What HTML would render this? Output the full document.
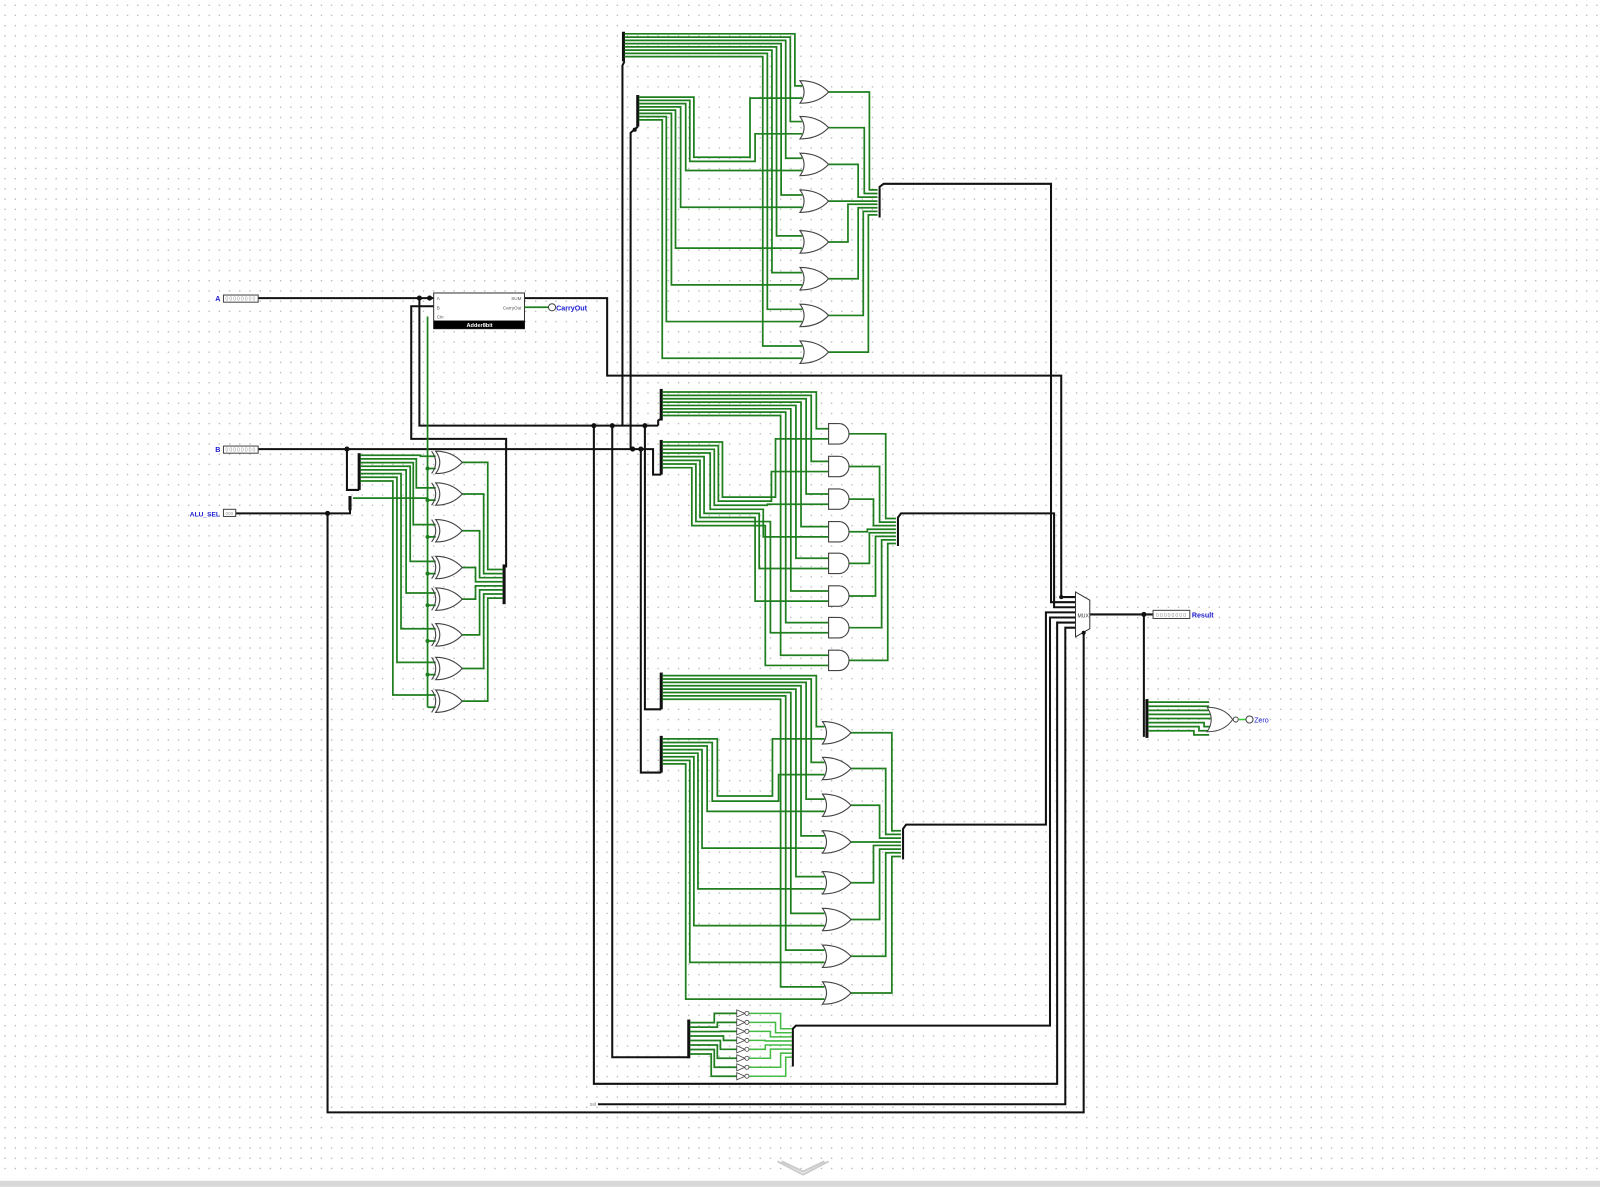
<!DOCTYPE html>
<html><head><meta charset="utf-8"><style>
html,body{margin:0;padding:0;background:#fff;}
svg{display:block;}
text{font-family:"Liberation Sans",sans-serif;}
</style></head><body>
<svg width="1600" height="1187" viewBox="0 0 1568 1163" xmlns="http://www.w3.org/2000/svg">
<defs>
<pattern id="grid" width="10" height="10" patternUnits="userSpaceOnUse">
<rect x="4.4" y="4.4" width="1.2" height="1.2" fill="#a8a8a8"/>
</pattern>
<g id="or"><path d="M0,-11 Q8,0 0,11 Q18,11 28,0 Q18,-11 0,-11Z" fill="#fff" stroke="#444" stroke-width="1.1"/></g>
<g id="xor"><path d="M2,-11 Q10,0 2,11 Q18,11 28,0 Q18,-11 2,-11Z" fill="#fff" stroke="#444" stroke-width="1.1"/><path d="M-2,-11 Q6,0 -2,11" fill="none" stroke="#444" stroke-width="1.1"/></g>
<g id="and"><path d="M0,-10 H10 A10,10 0 0 1 10,10 H0Z" fill="#fff" stroke="#444" stroke-width="1.1"/></g>
<g id="not"><path d="M0,-3.5 L8,0 L0,3.5Z" fill="#fff" stroke="#444" stroke-width="0.8"/><circle cx="10" cy="0" r="2" fill="#fff" stroke="#444" stroke-width="0.8"/></g>
</defs>
<rect width="1568" height="1163" fill="#fff"/>
<rect width="1568" height="1150" fill="url(#grid)"/>
<rect x="0" y="1157" width="1568" height="6" fill="#d8d8d8"/>
<path d="M762,1138 L787,1151 L812,1138 M766,1138 L787,1148 L808,1138" fill="none" stroke="#ccc" stroke-width="2"/>

<!-- BLACK WIRES -->
<g fill="none" stroke="#111" stroke-width="2">
<path d="M253,292 H425"/>
<path d="M514,292 H595 V368 H1040 V585 H1054"/>
<path d="M411,292 V417 H645"/>
<path d="M425,300 H403 V430 H496 V556"/>
<path d="M253,440 H640 V465 H648"/>
<path d="M340,440 V480 H352"/>
<path d="M231,503 H343 V490"/>
<path d="M321,503 V1090 H1062 V620"/>
<path d="M586,1082 H1044 V615 H1054"/>
<path d="M610,417 V64 L612,60"/>
<path d="M618,440 V130 L625,124"/>
<path d="M645,417 V412 L648,410"/>
<path d="M632,417 V695 H648"/>
<path d="M628,440 V757 H648"/>
<path d="M582,417 V1062 H1036 V610 H1054"/>
<path d="M600,417 V1036 H675"/>
<path d="M862,213 V183 L866,180 H1030 V590 H1054"/>
<path d="M880,535 V507 L883,503 H1033 V595 H1054"/>
<path d="M885,842 V812 L888,808 H1025 V600 H1054"/>
<path d="M777,1045 V1008 L780,1005 H1029 V605 H1054"/>
<path d="M1068,602 H1130"/>
<path d="M1121,602 V722"/>
</g>
<!-- splitter bars -->
<g stroke="#111" stroke-width="3">
<line x1="611" y1="31" x2="611" y2="60"/>
<line x1="625" y1="93" x2="625" y2="124"/>
<line x1="648" y1="381" x2="648" y2="412"/>
<line x1="648" y1="431" x2="648" y2="465"/>
<line x1="648" y1="659" x2="648" y2="695"/>
<line x1="648" y1="721" x2="648" y2="757"/>
<line x1="352" y1="444" x2="352" y2="480"/>
<line x1="343" y1="486" x2="343" y2="500"/>
<line x1="494" y1="553" x2="494" y2="592"/>
<line x1="675" y1="999" x2="675" y2="1037"/>
<line x1="1124" y1="685" x2="1124" y2="723"/>
</g>

<!-- TOP OR BLOCK -->
<g fill="none" stroke="#1f7f1f" stroke-width="1.7">
<path d="M612,33 H779 V84 H786"/>
<path d="M612,36.2 H774.5 V119 H786"/>
<path d="M612,39.4 H770 V155 H786"/>
<path d="M612,42.6 H765.5 V191 H786"/>
<path d="M612,45.8 H761 V231 H786"/>
<path d="M612,49 H756.5 V267 H786"/>
<path d="M612,52.2 H752 V303 H786"/>
<path d="M612,55.4 H747.5 V339 H786"/>
<path d="M626,95 H680 V154 H735 V96 H786"/>
<path d="M626,98.2 H676 V158 H740 V131 H786"/>
<path d="M626,101.4 H672 V167 H786"/>
<path d="M626,104.6 H667 V203 H786"/>
<path d="M626,107.8 H662 V243 H786"/>
<path d="M626,111 H658 V279 H786"/>
<path d="M626,114.2 H653 V315 H786"/>
<path d="M626,117.4 H649 V351 H786"/>
<path d="M812,90 H852 V186 H860"/>
<path d="M812,125 H847 V189.5 H860"/>
<path d="M812,161 H841 V193 H860"/>
<path d="M812,197 H860"/>
<path d="M812,237 H831 V200 H860"/>
<path d="M812,273 H841 V203.5 H860"/>
<path d="M812,309 H846 V207 H860"/>
<path d="M812,345 H851 V210.5 H860"/>
</g>
<use href="#or" x="784" y="90"/><use href="#or" x="784" y="125"/><use href="#or" x="784" y="161"/><use href="#or" x="784" y="197"/>
<use href="#or" x="784" y="237"/><use href="#or" x="784" y="273"/><use href="#or" x="784" y="309"/><use href="#or" x="784" y="345"/>

<!-- MIDDLE AND BLOCK -->
<g fill="none" stroke="#1f7f1f" stroke-width="1.7">
<path d="M649,384 H800 V420 H812"/>
<path d="M649,387.3 H795 V452 H812"/>
<path d="M649,390.6 H790 V484 H812"/>
<path d="M649,393.9 H785 V516 H812"/>
<path d="M649,397.2 H780 V547 H812"/>
<path d="M649,400.5 H775 V579 H812"/>
<path d="M649,403.8 H770 V610 H812"/>
<path d="M649,407.1 H765 V642 H812"/>
<path d="M649,433 H708 V487 H760 V430 H812"/>
<path d="M649,436.6 H704 V491 H756 V462 H812"/>
<path d="M649,440.2 H700 V495 H752 V494 H812"/>
<path d="M649,443.8 H696 V499 H748 V526 H812"/>
<path d="M649,447.4 H690 V503 H744 V557 H812"/>
<path d="M649,451 H686 V507 H740 V589 H812"/>
<path d="M649,454.6 H682 V511 H755 V620 H812"/>
<path d="M649,458.2 H678 V515 H750 V652 H812"/>
<path d="M832,425 H868 V508 H878"/>
<path d="M832,457 H862 V511.5 H878"/>
<path d="M832,489 H856 V515 H878"/>
<path d="M832,521 H850 V518.5 H878"/>
<path d="M832,552 H852 V522 H878"/>
<path d="M832,584 H858 V525.5 H878"/>
<path d="M832,615 H864 V529 H878"/>
<path d="M832,647 H870 V532.5 H878"/>
</g>
<use href="#and" x="812" y="425"/><use href="#and" x="812" y="457"/><use href="#and" x="812" y="489"/><use href="#and" x="812" y="521"/>
<use href="#and" x="812" y="552"/><use href="#and" x="812" y="584"/><use href="#and" x="812" y="615"/><use href="#and" x="812" y="647"/>

<!-- LOWER OR BLOCK -->
<g fill="none" stroke="#1f7f1f" stroke-width="1.7">
<path d="M649,662 H800 V712 H808"/>
<path d="M649,665.3 H795 V747 H808"/>
<path d="M649,668.6 H790 V783 H808"/>
<path d="M649,671.9 H785 V819 H808"/>
<path d="M649,675.2 H780 V859 H808"/>
<path d="M649,678.5 H775 V895 H808"/>
<path d="M649,681.8 H770 V931 H808"/>
<path d="M649,685.1 H765 V967 H808"/>
<path d="M649,724 H703 V780 H757 V724 H808"/>
<path d="M649,727.5 H698 V785 H763 V759 H808"/>
<path d="M649,731 H693 V795 H808"/>
<path d="M649,734.5 H688 V831 H808"/>
<path d="M649,738 H684 V871 H808"/>
<path d="M649,741.5 H680 V907 H808"/>
<path d="M649,745 H676 V943 H808"/>
<path d="M649,748.5 H672 V979 H808"/>
<path d="M830,718 H874 V814 H883"/>
<path d="M830,753 H868 V817.6 H883"/>
<path d="M830,789 H862 V821.2 H883"/>
<path d="M830,825 H883"/>
<path d="M830,865 H856 V828.4 H883"/>
<path d="M830,901 H862 V832 H883"/>
<path d="M830,937 H868 V835.6 H883"/>
<path d="M830,973 H874 V839.2 H883"/>
</g>
<use href="#or" x="806" y="718"/><use href="#or" x="806" y="753"/><use href="#or" x="806" y="789"/><use href="#or" x="806" y="825"/>
<use href="#or" x="806" y="865"/><use href="#or" x="806" y="901"/><use href="#or" x="806" y="937"/><use href="#or" x="806" y="973"/>

<!-- NOT BLOCK -->
<g fill="none" stroke="#1f7f1f" stroke-width="1.7">
<path d="M676,1002 H700 V993 H722"/>
<path d="M676,1006.4 H703 V1001.8 H722"/>
<path d="M676,1010.8 H706 V1010.6 H722"/>
<path d="M676,1015.2 H709 V1019.4 H722"/>
<path d="M676,1019.6 H706 V1028.2 H722"/>
<path d="M676,1024 H703 V1037 H722"/>
<path d="M676,1028.4 H700 V1045.8 H722"/>
<path d="M676,1032.8 H697 V1054.6 H722"/>
</g>
<g fill="none" stroke="#44bb44" stroke-width="1.5">
<path d="M734,993 H765 V1008 H776"/>
<path d="M734,1001.8 H760 V1012 H776"/>
<path d="M734,1010.6 H755 V1016 H776"/>
<path d="M734,1019.4 H750 V1020 H776"/>
<path d="M734,1028.2 H750 V1024 H776"/>
<path d="M734,1037 H755 V1028 H776"/>
<path d="M734,1045.8 H765 V1032 H776"/>
<path d="M734,1054.6 H770 V1036 H776"/>
</g>
<use href="#not" x="722" y="993"/><use href="#not" x="722" y="1001.8"/><use href="#not" x="722" y="1010.6"/><use href="#not" x="722" y="1019.4"/>
<use href="#not" x="722" y="1028.2"/><use href="#not" x="722" y="1037"/><use href="#not" x="722" y="1045.8"/><use href="#not" x="722" y="1054.6"/>

<!-- XOR BLOCK -->
<g fill="none" stroke="#1f7f1f" stroke-width="1.7">
<path d="M419,310 V693"/>
<path d="M346,488 H419"/>
<path d="M353,446 H412 V447 H427"/>
<path d="M353,449.6 H408 V478 H427"/>
<path d="M353,453.2 H405 V514 H427"/>
<path d="M353,456.8 H402 V550 H427"/>
<path d="M353,460.4 H398 V581 H427"/>
<path d="M353,464 H393 V616 H427"/>
<path d="M353,467.6 H389 V649 H427"/>
<path d="M353,471.2 H385 V681 H427"/>
<path d="M419,459 H427 M419,490 H427 M419,526 H427 M419,562 H427 M419,593 H427 M419,628 H427 M419,661 H427 M419,693 H427"/>
<path d="M452,453 H478 V558 H493"/>
<path d="M452,484 H474 V562 H493"/>
<path d="M452,520 H470 V566 H493"/>
<path d="M452,556 H466 V570 H493"/>
<path d="M452,587 H466 V574 H493"/>
<path d="M452,622 H470 V578 H493"/>
<path d="M452,655 H474 V582 H493"/>
<path d="M452,687 H478 V586 H493"/>
</g>
<use href="#xor" x="425" y="453"/><use href="#xor" x="425" y="484"/><use href="#xor" x="425" y="520"/><use href="#xor" x="425" y="556"/>
<use href="#xor" x="425" y="587"/><use href="#xor" x="425" y="622"/><use href="#xor" x="425" y="655"/><use href="#xor" x="425" y="687"/>
<g fill="#1f7f1f">
<circle cx="419" cy="490" r="2"/><circle cx="419" cy="459" r="2"/><circle cx="419" cy="526" r="2"/><circle cx="419" cy="562" r="2"/>
<circle cx="419" cy="593" r="2"/><circle cx="419" cy="628" r="2"/><circle cx="419" cy="661" r="2"/>
</g>

<!-- ZERO NOR -->
<g fill="none" stroke="#1f7f1f" stroke-width="1.7">
<path d="M1125,688 H1185"/><path d="M1125,692 H1185"/><path d="M1125,696 H1186"/><path d="M1125,700 H1187"/>
<path d="M1125,704 H1187"/><path d="M1125,708 H1180 V712 H1186"/><path d="M1125,712 H1175 V716 H1185"/><path d="M1125,716 H1170 V720 H1185"/>
</g>
<path d="M1183,693 Q1191,705 1183,717 Q1200,717 1208,705 Q1200,693 1183,693Z" fill="#fff" stroke="#444"/>
<circle cx="1211" cy="705" r="2.5" fill="#fff" stroke="#444"/>
<line x1="1214" y1="705" x2="1221" y2="705" stroke="#3c3" stroke-width="1.5"/>
<circle cx="1224.5" cy="705" r="3.5" fill="#fff" stroke="#444"/>
<text x="1229" y="708" font-size="7" fill="#1a1ad0">Zero</text>

<!-- MUX -->
<path d="M1054,580 L1068,588 L1068,616 L1054,624Z" fill="#fff" stroke="#333"/>
<text x="1056" y="605" font-size="5" fill="#333">MUX</text>

<!-- RESULT -->
<rect x="1130" y="598" width="36" height="8" fill="#fff" stroke="#444"/>
<text x="1133" y="604.5" font-size="5" fill="#999" letter-spacing="1">00000000</text>
<text x="1168" y="605" font-size="7" font-weight="bold" fill="#1a1ad0">Result</text>

<!-- ADDER -->
<rect x="425" y="287" width="89" height="35" fill="#fff" stroke="#333"/>
<rect x="425" y="314" width="89" height="8" fill="#000"/>
<text x="470" y="320.5" font-size="5.5" font-weight="bold" fill="#fff" text-anchor="middle">Adder8bit</text>
<text x="428" y="294" font-size="4.5" fill="#555">A</text>
<text x="428" y="303" font-size="4.5" fill="#555">B</text>
<text x="428" y="312" font-size="4.5" fill="#555">Cin</text>
<text x="511" y="294" font-size="4.5" fill="#555" text-anchor="end">SUM</text>
<text x="511" y="303" font-size="4.5" fill="#555" text-anchor="end">CarryOut</text>
<line x1="514" y1="301" x2="538" y2="301" stroke="#1f7f1f" stroke-width="1.7"/>
<circle cx="541" cy="301" r="3.5" fill="#fff" stroke="#444"/>
<text x="545" y="304" font-size="7" font-weight="bold" fill="#1a1ad0">CarryOut</text>

<!-- INPUTS -->
<text x="211" y="295" font-size="7" font-weight="bold" fill="#1a1ad0">A</text>
<rect x="219" y="289" width="34" height="7" fill="#fff" stroke="#444"/>
<text x="221" y="294.5" font-size="5" fill="#999" letter-spacing="1">00000000</text>
<text x="211" y="443" font-size="7" font-weight="bold" fill="#1a1ad0">B</text>
<rect x="219" y="437" width="34" height="7" fill="#fff" stroke="#444"/>
<text x="221" y="442.5" font-size="5" fill="#999" letter-spacing="1">00000000</text>
<text x="186" y="506" font-size="6.5" font-weight="bold" fill="#1a1ad0">ALU_SEL</text>
<rect x="219" y="499" width="12" height="7" fill="#fff" stroke="#444"/>
<text x="221" y="504.5" font-size="4.5" fill="#999">000</text>
<text x="578" y="1084" font-size="5" fill="#888">sel</text>

<!-- DOTS -->
<g fill="#111">
<circle cx="411" cy="292" r="2.5"/><circle cx="421" cy="292" r="2.5"/>
<circle cx="582" cy="417" r="2.5"/><circle cx="600" cy="417" r="2.5"/><circle cx="632" cy="417" r="2.5"/>
<circle cx="340" cy="440" r="2.5"/><circle cx="620" cy="440" r="2.5"/><circle cx="628" cy="440" r="2.5"/>
<circle cx="321" cy="503" r="2.5"/><circle cx="1121" cy="602" r="2.5"/><circle cx="1062" cy="620" r="2"/>
<circle cx="1040" cy="585" r="2"/><circle cx="622" cy="127" r="2"/>
</g>
</svg>
</body></html>
